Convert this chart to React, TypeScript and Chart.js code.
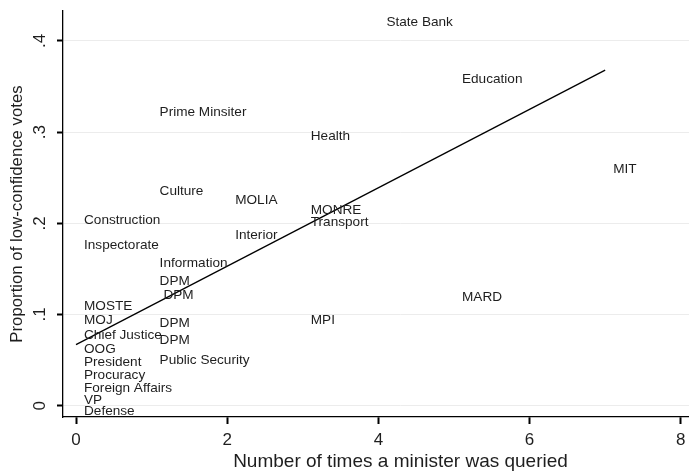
import { useEffect, useRef } from 'react';
import { Chart, registerables } from 'chart.js';

Chart.register(...registerables);

// Ministry / office names, drawn as the point markers themselves
const ministries = [
  'State Bank', 'Education', 'Prime Minsiter', 'Health', 'MIT', 'Culture',
  'MOLIA', 'MONRE', 'Construction', 'Transport', 'Interior', 'Inspectorate',
  'Information', 'DPM', ' DPM', 'MARD', 'MOSTE', 'MOJ', 'DPM', 'MPI',
  'Chief Justice', 'DPM', 'OOG', 'President', 'Public Security', 'Procuracy',
  'Foreign Affairs', 'VP', 'Defense',
];

// Number of times each minister was queried
const timesQueried = [
  4, 5, 1, 3, 7, 1,
  2, 3, 0, 3, 2, 0,
  1, 1, 1, 5, 0, 0, 1, 3,
  0, 1, 0, 0, 1, 0,
  0, 0, 0,
];

// Share of low-confidence votes received
const lowConfidence = [
  0.421, 0.358, 0.322, 0.295, 0.259, 0.2346,
  0.225, 0.2146, 0.203, 0.201, 0.1864, 0.176,
  0.156, 0.136, 0.1206, 0.1189, 0.1086, 0.0932, 0.0903, 0.094,
  0.0768, 0.072, 0.0622, 0.0476, 0.0493, 0.0329,
  0.019, 0.0059, -0.0066,
];

// Fitted linear trend
const fitX = [0, 7];
const fitY = [0.067, 0.368];

// Axis ticks
const xTicks = [0, 2, 4, 6, 8];
const yTicks = [0, 0.1, 0.2, 0.3, 0.4];
const yTickLabels = ['0', '.1', '.2', '.3', '.4'];

const X_MIN = -0.172;
const X_MAX = 8.757;
const Y_MIN = -0.0124;
const Y_MAX = 0.4328;

const FONT = '"Liberation Sans", Arial, Helvetica, sans-serif';
const TEXT = '#1e1e1e';

export default function App() {
  const canvasRef = useRef<HTMLCanvasElement>(null);

  useEffect(() => {
    const canvas = canvasRef.current;
    if (!canvas) return;

    // Ministry names placed to the right of each (invisible) point
    const nameLabels = {
      id: 'nameLabels',
      afterDatasetsDraw(chart: any) {
        const ctx = chart.ctx as CanvasRenderingContext2D;
        const meta = chart.getDatasetMeta(0);
        ctx.save();
        ctx.font = `13.6px ${FONT}`;
        ctx.fillStyle = TEXT;
        ctx.textAlign = 'left';
        ctx.textBaseline = 'middle';
        meta.data.forEach((pt: any, i: number) => {
          ctx.fillText(ministries[i], pt.x + 8, pt.y);
        });
        ctx.restore();
      },
    };

    // Vertical (rotated) y tick labels
    const yLabels = {
      id: 'yLabels',
      afterDraw(chart: any) {
        const ctx = chart.ctx as CanvasRenderingContext2D;
        const scale = chart.scales.y;
        ctx.save();
        ctx.font = `17px ${FONT}`;
        ctx.fillStyle = TEXT;
        ctx.textAlign = 'center';
        ctx.textBaseline = 'middle';
        yTicks.forEach((v, i) => {
          const py = scale.getPixelForValue(v);
          ctx.save();
          ctx.translate(scale.right - 23, py);
          ctx.rotate(-Math.PI / 2);
          ctx.fillText(yTickLabels[i], 0, 0);
          ctx.restore();
        });
        ctx.restore();
      },
    };

    const chart = new Chart(canvas, {
      type: 'scatter',
      data: {
        datasets: [
          {
            label: 'Ministers',
            data: timesQueried.map((x, i) => ({ x, y: lowConfidence[i] })),
            pointRadius: 0,
            pointHoverRadius: 0,
          },
          {
            type: 'line',
            label: 'Fitted values',
            data: fitX.map((x, i) => ({ x, y: fitY[i] })),
            borderColor: '#000',
            borderWidth: 1.3,
            pointRadius: 0,
            fill: false,
          } as any,
        ],
      },
      options: {
        responsive: false,
        animation: false,
        devicePixelRatio: 1,
        layout: { padding: { top: 11, right: 2, left: 0, bottom: 0 } },
        plugins: {
          legend: { display: false },
          tooltip: { enabled: false },
        },
        scales: {
          x: {
            type: 'linear',
            min: X_MIN,
            max: X_MAX,
            afterBuildTicks: (s: any) => {
              s.ticks = xTicks.map((value) => ({ value }));
            },
            afterFit: (s: any) => {
              s.height = 55;
            },
            grid: {
              drawOnChartArea: false,
              drawTicks: true,
              tickLength: 7,
              tickWidth: 2,
              tickColor: '#000',
            },
            border: { color: '#000', width: 1.3 },
            ticks: {
              color: TEXT,
              font: { family: FONT, size: 17 },
              padding: 6,
              maxRotation: 0,
              callback: (v: any) => String(v),
            },
            title: {
              display: true,
              text: 'Number of times a minister was queried',
              color: TEXT,
              font: { family: FONT, size: 19, lineHeight: 1 },
              padding: { top: 0, bottom: 0.5 },
            },
          },
          y: {
            type: 'linear',
            min: Y_MIN,
            max: Y_MAX,
            afterBuildTicks: (s: any) => {
              s.ticks = yTicks.map((value) => ({ value }));
            },
            afterFit: (s: any) => {
              s.width = 63;
            },
            grid: {
              color: '#ececec',
              lineWidth: 1,
              drawTicks: true,
              tickLength: 6,
              tickWidth: 2,
              tickColor: '#000',
            },
            border: { color: '#000', width: 1.3 },
            ticks: { display: false },
            title: {
              display: true,
              text: 'Proportion of low-confidence votes',
              color: TEXT,
              font: { family: FONT, size: 16.8, lineHeight: 1 },
              padding: { top: 8.6, bottom: 0 },
            },
          },
        },
      },
      plugins: [nameLabels, yLabels],
    });

    return () => chart.destroy();
  }, []);

  return (
    <div
      style={{
        position: 'fixed',
        left: 0,
        top: 0,
        width: 689,
        height: 472,
        overflow: 'hidden',
        background: '#fff',
      }}
    >
      <canvas ref={canvasRef} width={740} height={472} style={{ display: 'block' }} />
    </div>
  );
}
